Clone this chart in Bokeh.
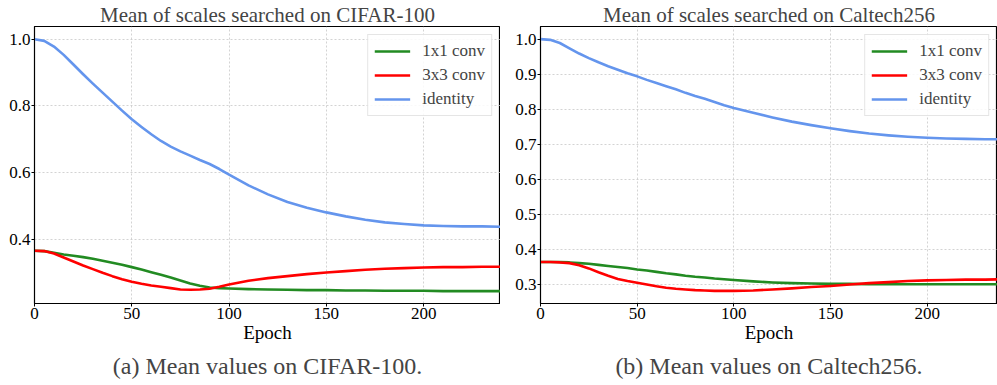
from bokeh.plotting import figure
from bokeh.layouts import row
from bokeh.models import Title, FixedTicker, NumeralTickFormatter, Range1d, Legend, LegendItem
from bokeh.embed import file_html
from bokeh.resources import INLINE

epochs = [0, 5, 10, 15, 20, 25, 30, 35, 40, 45, 50, 55, 60, 65, 70, 75, 80, 85, 90, 95, 100,
          110, 120, 130, 140, 150, 160, 170, 180, 190, 200, 210, 220, 230, 240]

cifar_identity = [1.000, 0.995, 0.978, 0.953, 0.924, 0.895, 0.867, 0.840, 0.813, 0.786, 0.760,
                  0.737, 0.715, 0.695, 0.678, 0.664, 0.651, 0.638, 0.626, 0.611, 0.594,
                  0.562, 0.535, 0.512, 0.495, 0.481, 0.469, 0.459, 0.451, 0.446, 0.442,
                  0.440, 0.439, 0.439, 0.438]
cifar_conv1 = [0.366, 0.365, 0.360, 0.355, 0.351, 0.347, 0.342, 0.336, 0.330, 0.324, 0.317,
               0.310, 0.302, 0.294, 0.286, 0.277, 0.268, 0.261, 0.256, 0.254, 0.253,
               0.251, 0.250, 0.249, 0.248, 0.248, 0.247, 0.247, 0.246, 0.246, 0.246,
               0.245, 0.245, 0.245, 0.245]
cifar_conv3 = [0.366, 0.365, 0.358, 0.346, 0.334, 0.322, 0.311, 0.300, 0.290, 0.281, 0.273,
               0.267, 0.262, 0.258, 0.254, 0.250, 0.249, 0.250, 0.252, 0.258, 0.265,
               0.276, 0.284, 0.290, 0.296, 0.301, 0.305, 0.309, 0.312, 0.314, 0.316,
               0.317, 0.317, 0.318, 0.318]

cal_identity = [1.000, 0.998, 0.989, 0.974, 0.959, 0.946, 0.934, 0.923, 0.913, 0.903, 0.894,
                0.884, 0.875, 0.866, 0.857, 0.847, 0.838, 0.830, 0.821, 0.812, 0.804,
                0.790, 0.777, 0.765, 0.755, 0.746, 0.738, 0.731, 0.726, 0.722, 0.719,
                0.717, 0.716, 0.715, 0.715]
cal_conv1 = [0.365, 0.365, 0.365, 0.364, 0.362, 0.360, 0.357, 0.354, 0.351, 0.348, 0.344,
             0.341, 0.337, 0.333, 0.330, 0.326, 0.323, 0.321, 0.318, 0.316, 0.314,
             0.310, 0.307, 0.305, 0.304, 0.303, 0.303, 0.302, 0.302, 0.302, 0.302,
             0.302, 0.302, 0.302, 0.302]
cal_conv3 = [0.365, 0.365, 0.364, 0.362, 0.356, 0.347, 0.336, 0.326, 0.317, 0.311, 0.306,
             0.301, 0.296, 0.292, 0.289, 0.287, 0.285, 0.284, 0.283, 0.283, 0.283,
             0.284, 0.287, 0.290, 0.294, 0.297, 0.301, 0.305, 0.308, 0.311, 0.313,
             0.314, 0.315, 0.315, 0.316]

series_names = ["1x1 conv", "3x3 conv", "identity"]
colors = ["#228B22", "#FF0000", "#6495ED"]
x_ticks = [0, 50, 100, 150, 200]

FONT = "'Liberation Serif', 'Times New Roman', serif"
AXIS_FONT = "times"


def style_axis(ax):
    ax.axis_label_text_font = AXIS_FONT
    ax.axis_label_text_font_size = "19px"
    ax.axis_label_text_font_style = "normal"
    ax.axis_label_text_color = "black"
    ax.major_label_text_font = AXIS_FONT
    ax.major_label_text_font_size = "17px"
    ax.major_label_text_color = "black"
    ax.axis_line_color = "black"
    ax.major_tick_line_color = "black"
    ax.major_tick_out = 3
    ax.major_tick_in = 0
    ax.minor_tick_line_color = None
    ax.major_label_standoff = 1


def make_fig(title, caption, series, y_ticks, y_range, x_end, width, left_border):
    p = figure(width=width, height=385, output_backend="svg", toolbar_location=None,
               x_range=Range1d(0, x_end), y_range=Range1d(*y_range),
               min_border_left=left_border, min_border_right=0,
               min_border_top=0, min_border_bottom=82)
    p.title.text = title
    p.title.text_font = FONT
    p.title.text_font_size = "21px"
    p.title.text_font_style = "normal"
    p.title.align = "center"
    p.title.offset = 0
    p.title.standoff = 0
    if "text_line_height" in p.title.properties():
        p.title.text_line_height = 0.85
    cap = Title(text=caption, text_font=FONT, text_font_size="24px",
                text_font_style="normal", align="center")
    p.add_layout(cap, "below")

    items = []
    for name, ys, c in zip(series_names, series, colors):
        r = p.line(epochs, ys, line_color=c, line_width=2.6, line_join="round")
        items.append(LegendItem(label=name, renderers=[r]))
    leg = Legend(items=items, location="top_right")
    leg.label_text_font = FONT
    leg.label_text_font_size = "17px"
    leg.glyph_width = 36
    leg.glyph_height = 20
    leg.label_height = 20
    leg.label_standoff = 12
    leg.spacing = 4
    leg.padding = 6
    leg.margin = 8
    leg.border_line_color = "#cccccc"
    leg.border_line_width = 1
    leg.background_fill_alpha = 0.85
    p.add_layout(leg)

    xax = p.xaxis[0]
    yax = p.yaxis[0]
    xax.ticker = FixedTicker(ticks=x_ticks)
    yax.ticker = FixedTicker(ticks=y_ticks)
    yax.formatter = NumeralTickFormatter(format="0.0")
    xax.axis_label = "Epoch"
    style_axis(xax)
    style_axis(yax)
    xax.axis_label_standoff = 0
    for g in (p.xgrid[0], p.ygrid[0]):
        g.grid_line_color = "#c8c8c8"
        g.grid_line_dash = "2 2"
        g.grid_line_width = 0.8
    p.outline_line_color = "black"
    p.outline_line_width = 1.2
    p.outline_line_alpha = 1
    return p


p1 = make_fig("Mean of scales searched on CIFAR-100", "(a) Mean values on CIFAR-100.",
              [cifar_conv1, cifar_conv3, cifar_identity],
              [0.4, 0.6, 0.8, 1.0], (0.208, 1.038), 239.5, 500, 34)
p2 = make_fig("Mean of scales searched on Caltech256", "(b) Mean values on Caltech256.",
              [cal_conv1, cal_conv3, cal_identity],
              [0.3, 0.4, 0.5, 0.6, 0.7, 0.8, 0.9, 1.0], (0.247, 1.036), 236.4, 497, 40)

layout = row(p1, p2)
open("out.html", "w").write(file_html(layout, INLINE))
